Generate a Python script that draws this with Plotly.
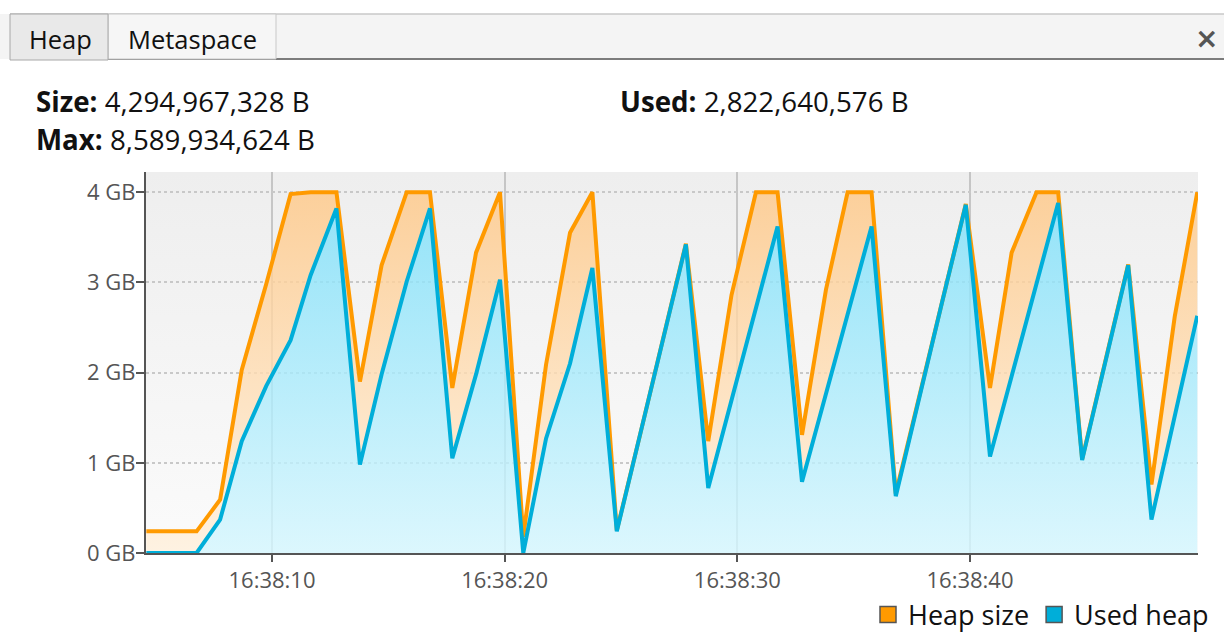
import base64
import pandas as pd
import plotly.graph_objects as go

# ---------------- data ----------------
BASE_TIME = "2024-01-01 16:38:00"
t_seconds = [4.6, 5.76, 6.76, 7.77, 8.70, 9.75, 10.80, 11.66, 12.77, 13.78,
             14.71, 15.79, 16.79, 17.75, 18.77, 19.80, 20.80, 21.78, 22.81, 23.77,
             24.82, 25.80, 26.80, 27.79, 28.75, 29.75, 30.80, 31.73, 32.78, 33.81,
             34.74, 35.77, 36.81, 37.80, 38.80, 39.82, 40.86, 41.79, 42.86, 43.79,
             44.82, 45.80, 46.80, 47.80, 48.80, 49.77]
heap_size_gb = [0.24, 0.24, 0.24, 0.59, 2.03, 2.98, 3.98, 4.0, 4.0, 1.90,
                3.19, 4.0, 4.0, 1.83, 3.33, 4.0, 0.18, 2.09, 3.55, 4.0,
                0.25, 1.29, 2.36, 3.43, 1.24, 2.86, 4.0, 4.0, 1.31, 2.92,
                4.0, 4.0, 0.66, 1.72, 2.79, 3.87, 1.83, 3.33, 4.0, 4.0,
                1.04, 2.10, 3.20, 0.76, 2.62, 4.0]
used_heap_gb = [0.0, 0.0, 0.0, 0.37, 1.24, 1.85, 2.36, 3.08, 3.82, 0.98,
                1.98, 3.01, 3.82, 1.05, 1.98, 3.03, 0.0, 1.27, 2.10, 3.16,
                0.24, 1.29, 2.36, 3.42, 0.72, 1.69, 2.72, 3.62, 0.79, 1.77,
                2.65, 3.62, 0.63, 1.71, 2.78, 3.86, 1.07, 1.96, 2.99, 3.88,
                1.03, 2.10, 3.19, 0.37, 1.50, 2.63]
y_tick_vals = [0, 1, 2, 3, 4]
y_tick_text = ["0 GB", "1 GB", "2 GB", "3 GB", "4 GB"]
series_names = ["Heap size", "Used heap"]
header_size = "4,294,967,328 B"
header_used = "2,822,640,576 B"
header_max = "8,589,934,624 B"
tab_labels = ["Heap", "Metaspace"]
x_range_seconds = [4.585, 49.8]
y_top = 4.224

# ---------------- styling ----------------
FONT = "Open Sans"
ORANGE = "#ff9a00"
BLUE = "#00aed9"
W, H = 1224, 644
PX0, PX1, PY_TOP, PY_BOT = 146, 1198, 172, 553

base = pd.Timestamp(BASE_TIME)
times = [base + pd.Timedelta(seconds=s) for s in t_seconds]
x_range = [base + pd.Timedelta(seconds=s) for s in x_range_seconds]


def px(x):
    return (x - PX0) / (PX1 - PX0)


def py(y):
    return (PY_BOT - y) / (PY_BOT - PY_TOP)


fig = go.Figure()

# filled areas (semi transparent so grid shows through)
fig.add_trace(go.Scatter(
    x=times, y=used_heap_gb, mode="none", fill="tozeroy",
    fillgradient=dict(type="vertical", start=0, stop=y_top,
                      colorscale=[[0, "rgba(212,246,254,0.8)"],
                                  [1, "rgba(118,222,250,0.8)"]]),
    showlegend=False, hoverinfo="skip"))
fig.add_trace(go.Scatter(
    x=times, y=heap_size_gb, mode="none", fill="tonexty",
    fillgradient=dict(type="vertical", start=0, stop=y_top,
                      colorscale=[[0, "rgba(255,240,220,0.8)"],
                                  [1, "rgba(255,198,130,0.8)"]]),
    showlegend=False, hoverinfo="skip"))
# lines
fig.add_trace(go.Scatter(x=times, y=heap_size_gb, mode="lines",
                         line=dict(color=ORANGE, width=4),
                         showlegend=False, hoverinfo="skip"))
fig.add_trace(go.Scatter(x=times, y=used_heap_gb, mode="lines",
                         line=dict(color=BLUE, width=4),
                         showlegend=False, hoverinfo="skip"))
# legend entries
for name, col in zip(series_names, [ORANGE, BLUE]):
    fig.add_trace(go.Scatter(x=[None], y=[None], mode="markers", name=name,
                             marker=dict(symbol="square", size=19, color=col,
                                         line=dict(color="#555555", width=1.5))))

# background gradient for plot area
svg = ('<svg xmlns="http://www.w3.org/2000/svg" width="10" height="100" '
       'preserveAspectRatio="none"><defs><linearGradient id="g" x1="0" y1="0" '
       'x2="0" y2="1"><stop offset="0" stop-color="#eeeeee"/>'
       '<stop offset="1" stop-color="#fbfbfb"/></linearGradient></defs>'
       '<rect width="10" height="100" fill="url(#g)"/></svg>')
src = "data:image/svg+xml;base64," + base64.b64encode(svg.encode()).decode()

shapes = []
# tab bar background
shapes.append(dict(type="rect", xref="paper", yref="paper",
                   x0=px(0), x1=px(W), y0=py(59), y1=py(14),
                   fillcolor="#f4f4f4", line=dict(width=0), layer="above"))
shapes.append(dict(type="line", xref="paper", yref="paper",
                   x0=px(10), x1=px(W), y0=py(14), y1=py(14),
                   line=dict(color="#c8c8c8", width=1.5), layer="above"))
shapes.append(dict(type="line", xref="paper", yref="paper",
                   x0=px(108), x1=px(W), y0=py(59), y1=py(59),
                   line=dict(color="#7c7c7c", width=2), layer="above"))
shapes.append(dict(type="rect", xref="paper", yref="paper",
                   x0=px(108), x1=px(276), y0=py(59), y1=py(14),
                   fillcolor="#f6f6f6", line=dict(color="#c8c8c8", width=1),
                   layer="above"))
shapes.append(dict(type="rect", xref="paper", yref="paper",
                   x0=px(10), x1=px(108), y0=py(60), y1=py(14),
                   fillcolor="#e9e9e9", line=dict(color="#a8a8a8", width=1),
                   layer="above"))

annotations = [
    dict(text=tab_labels[0], x=px(60), y=py(39), xanchor="center", yanchor="middle",
         font=dict(size=25.5, color="#111111", family=FONT)),
    dict(text=tab_labels[1], x=px(192), y=py(39), xanchor="center", yanchor="middle",
         font=dict(size=25.5, color="#111111", family=FONT)),
    dict(text="<b>×</b>", x=px(1206), y=py(38), xanchor="center", yanchor="middle",
         font=dict(size=28, color="#555555", family="DejaVu Sans")),
    dict(text="<b>Size:</b> " + header_size, x=px(34), y=py(101), xanchor="left",
         yanchor="middle", font=dict(size=27.7, color="#111111", family=FONT)),
    dict(text="<b>Max:</b> " + header_max, x=px(34), y=py(139), xanchor="left",
         yanchor="middle", font=dict(size=27.7, color="#111111", family=FONT)),
    dict(text="<b>Used:</b> " + header_used, x=px(618), y=py(101), xanchor="left",
         yanchor="middle", font=dict(size=27.7, color="#111111", family=FONT)),
]
for a in annotations:
    a.update(xref="paper", yref="paper", showarrow=False)

fig.update_layout(
    width=W, height=H,
    margin=dict(l=PX0, r=W - PX1, t=PY_TOP, b=H - PY_BOT, autoexpand=False),
    paper_bgcolor="white", plot_bgcolor="rgba(0,0,0,0)",
    font=dict(family=FONT, color="#555555"),
    images=[dict(source=src, xref="paper", yref="paper", x=0, y=1,
                 sizex=1, sizey=1, sizing="stretch", xanchor="left",
                 yanchor="top", layer="below")],
    shapes=shapes, annotations=annotations,
    showlegend=True,
    legend=dict(orientation="h", xanchor="right", yanchor="middle",
                x=px(1214), y=py(615), traceorder="normal",
                font=dict(size=27, color="#111111", family=FONT),
                bgcolor="rgba(0,0,0,0)", itemclick=False, itemdoubleclick=False,
                tracegroupgap=0),
)
fig.update_xaxes(
    type="date", range=x_range, dtick=10000, tickformat="%H:%M:%S",
    showline=True, linecolor="#555555", linewidth=2,
    ticks="outside", ticklen=7, tickwidth=2, tickcolor="#555555",
    tickfont=dict(size=22, color="#555555", family=FONT),
    showgrid=True, gridcolor="rgba(170,170,170,0.6)", gridwidth=2,
    zeroline=False)
fig.update_yaxes(
    range=[0, y_top], tickvals=y_tick_vals, ticktext=y_tick_text,
    showline=True, linecolor="#555555", linewidth=2,
    ticks="outside", ticklen=8, tickwidth=2, tickcolor="#555555",
    tickfont=dict(size=22, color="#555555", family=FONT),
    ticklabelstandoff=-4,
    showgrid=True, gridcolor="#c8c8c8", gridwidth=1.5, griddash="dot",
    zeroline=False)

fig.write_html("out.html")
